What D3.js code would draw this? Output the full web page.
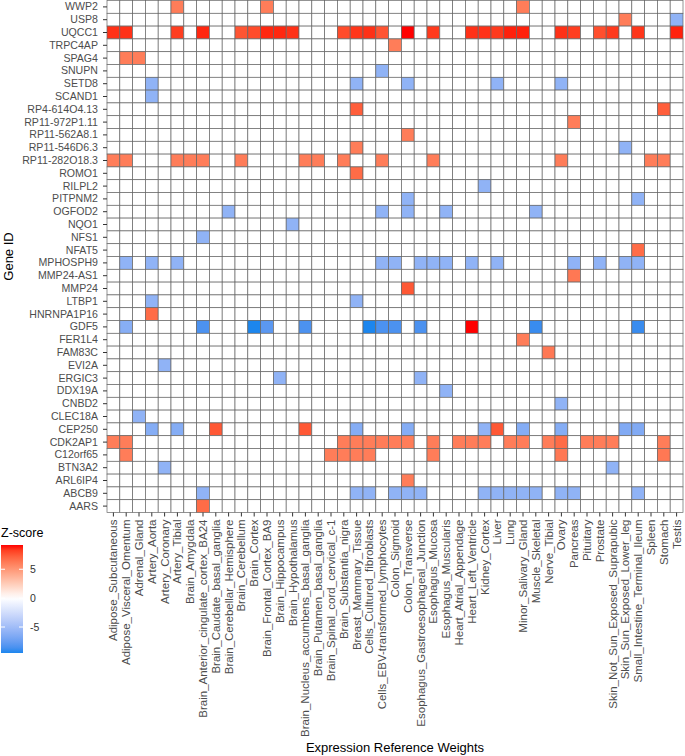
<html>
<head>
<script src="https://d3js.org/d3.v7.min.js"></script>
<style>
body { margin: 0; background: #fff; font-family: 'Liberation Sans', Arial, sans-serif; }
</style>
</head>
<body>
<div id="chart"></div>
<script>
  // genes top to bottom, tissues left to right
  var genes = ["WWP2", "USP8", "UQCC1", "TRPC4AP", "SPAG4", "SNUPN", "SETD8", "SCAND1",
    "RP4-614O4.13", "RP11-972P1.11", "RP11-562A8.1", "RP11-546D6.3", "RP11-282O18.3",
    "ROMO1", "RILPL2", "PITPNM2", "OGFOD2", "NQO1", "NFS1", "NFAT5", "MPHOSPH9",
    "MMP24-AS1", "MMP24", "LTBP1", "HNRNPA1P16", "GDF5", "FER1L4", "FAM83C", "EVI2A",
    "ERGIC3", "DDX19A", "CNBD2", "CLEC18A", "CEP250", "CDK2AP1", "C12orf65", "BTN3A2",
    "ARL6IP4", "ABCB9", "AARS"];

  var tissues = ["Adipose_Subcutaneous", "Adipose_Visceral_Omentum", "Adrenal_Gland",
    "Artery_Aorta", "Artery_Coronary", "Artery_Tibial", "Brain_Amygdala",
    "Brain_Anterior_cingulate_cortex_BA24", "Brain_Caudate_basal_ganglia",
    "Brain_Cerebellar_Hemisphere", "Brain_Cerebellum", "Brain_Cortex",
    "Brain_Frontal_Cortex_BA9", "Brain_Hippocampus", "Brain_Hypothalamus",
    "Brain_Nucleus_accumbens_basal_ganglia", "Brain_Putamen_basal_ganglia",
    "Brain_Spinal_cord_cervical_c-1", "Brain_Substantia_nigra", "Breast_Mammary_Tissue",
    "Cells_Cultured_fibroblasts", "Cells_EBV-transformed_lymphocytes", "Colon_Sigmoid",
    "Colon_Transverse", "Esophagus_Gastroesophageal_Junction", "Esophagus_Mucosa",
    "Esophagus_Muscularis", "Heart_Atrial_Appendage", "Heart_Left_Ventricle",
    "Kidney_Cortex", "Liver", "Lung", "Minor_Salivary_Gland", "Muscle_Skeletal",
    "Nerve_Tibial", "Ovary", "Pancreas", "Pituitary", "Prostate",
    "Skin_Not_Sun_Exposed_Suprapubic", "Skin_Sun_Exposed_Lower_leg",
    "Small_Intestine_Terminal_Ileum", "Spleen", "Stomach", "Testis"];

  // non-zero z-scores: [gene, tissue index, z]
  var zscores = [
    ["WWP2", 5, 6.1], ["WWP2", 12, 6.1], ["WWP2", 32, 6.1],
    ["USP8", 40, 6.1], ["USP8", 44, -5.8],
    ["UQCC1", 0, 8.6], ["UQCC1", 1, 8.6], ["UQCC1", 5, 8.3], ["UQCC1", 7, 8.8],
    ["UQCC1", 10, 7.6], ["UQCC1", 11, 7.9], ["UQCC1", 12, 8.8], ["UQCC1", 13, 8.8],
    ["UQCC1", 14, 8.6], ["UQCC1", 18, 7.9], ["UQCC1", 19, 8.5], ["UQCC1", 20, 8.6],
    ["UQCC1", 21, 7.6], ["UQCC1", 23, 9.2], ["UQCC1", 25, 8.4], ["UQCC1", 28, 8.6],
    ["UQCC1", 29, 8.6], ["UQCC1", 30, 8.4], ["UQCC1", 31, 8.9], ["UQCC1", 32, 8.9],
    ["UQCC1", 35, 8.6], ["UQCC1", 36, 8.3], ["UQCC1", 38, 7.8], ["UQCC1", 39, 8.4],
    ["UQCC1", 41, 8.5], ["UQCC1", 44, 8.9],
    ["TRPC4AP", 22, 6.1],
    ["SPAG4", 1, 6.1], ["SPAG4", 2, 6.1],
    ["SNUPN", 21, -5.8],
    ["SETD8", 3, -5.8], ["SETD8", 19, -5.8], ["SETD8", 23, -5.8], ["SETD8", 30, -5.8], ["SETD8", 35, -5.8],
    ["SCAND1", 3, -5.8],
    ["RP4-614O4.13", 19, 7.3], ["RP4-614O4.13", 43, 7.3],
    ["RP11-972P1.11", 36, 6.1],
    ["RP11-562A8.1", 23, 6.1],
    ["RP11-546D6.3", 19, 6.1], ["RP11-546D6.3", 40, -5.8],
    ["RP11-282O18.3", 0, 6.1], ["RP11-282O18.3", 1, 6.1], ["RP11-282O18.3", 5, 6.1],
    ["RP11-282O18.3", 6, 6.1], ["RP11-282O18.3", 7, 6.1], ["RP11-282O18.3", 10, 6.1],
    ["RP11-282O18.3", 15, 6.1], ["RP11-282O18.3", 16, 6.1], ["RP11-282O18.3", 18, 6.1],
    ["RP11-282O18.3", 21, 6.1], ["RP11-282O18.3", 25, 6.1], ["RP11-282O18.3", 35, 6.1],
    ["RP11-282O18.3", 42, 6.1], ["RP11-282O18.3", 43, 6.1],
    ["ROMO1", 19, 6.8],
    ["RILPL2", 29, -5.8],
    ["PITPNM2", 23, -5.8], ["PITPNM2", 41, -5.8],
    ["OGFOD2", 9, -5.8], ["OGFOD2", 21, -5.8], ["OGFOD2", 23, -5.8], ["OGFOD2", 26, -5.8], ["OGFOD2", 33, -5.8],
    ["NQO1", 14, -5.8],
    ["NFS1", 7, -5.8],
    ["NFAT5", 41, 6.8],
    ["MPHOSPH9", 1, -5.8], ["MPHOSPH9", 3, -5.8], ["MPHOSPH9", 5, -5.8], ["MPHOSPH9", 21, -5.8],
    ["MPHOSPH9", 22, -5.8], ["MPHOSPH9", 24, -5.8], ["MPHOSPH9", 25, -5.8], ["MPHOSPH9", 26, -5.8],
    ["MPHOSPH9", 28, -5.8], ["MPHOSPH9", 30, -5.8], ["MPHOSPH9", 36, -5.8], ["MPHOSPH9", 38, -5.8],
    ["MPHOSPH9", 40, -5.8], ["MPHOSPH9", 41, -5.8],
    ["MMP24-AS1", 36, 6.3],
    ["MMP24", 23, 7.5],
    ["LTBP1", 3, -5.8], ["LTBP1", 19, -5.8],
    ["HNRNPA1P16", 3, 6.8],
    ["GDF5", 1, -6.2], ["GDF5", 7, -8.5], ["GDF5", 11, -9.5], ["GDF5", 12, -8], ["GDF5", 15, -8.5],
    ["GDF5", 20, -9.5], ["GDF5", 21, -8.5], ["GDF5", 22, -8.5], ["GDF5", 24, -8.5],
    ["GDF5", 28, 9.2], ["GDF5", 33, -9], ["GDF5", 41, -9],
    ["FER1L4", 32, 6.1],
    ["FAM83C", 34, 6.3],
    ["EVI2A", 4, -5.8],
    ["ERGIC3", 13, -5.8], ["ERGIC3", 24, -5.8],
    ["DDX19A", 26, -5.8],
    ["CNBD2", 35, -5.8],
    ["CLEC18A", 2, -5.8],
    ["CEP250", 3, -6.3], ["CEP250", 5, -6.3], ["CEP250", 8, 7.5], ["CEP250", 15, 7.5],
    ["CEP250", 19, -6.3], ["CEP250", 23, -6.3], ["CEP250", 29, -5.8], ["CEP250", 30, 7.5],
    ["CEP250", 32, -6.3], ["CEP250", 35, -6.3], ["CEP250", 40, -6.5], ["CEP250", 41, -6.5],
    ["CDK2AP1", 0, 6.1], ["CDK2AP1", 1, 6.1], ["CDK2AP1", 18, 6.1], ["CDK2AP1", 19, 6.1],
    ["CDK2AP1", 20, 6.1], ["CDK2AP1", 21, 6.1], ["CDK2AP1", 22, 6.1], ["CDK2AP1", 23, 6.1],
    ["CDK2AP1", 25, 6.1], ["CDK2AP1", 27, 6.1], ["CDK2AP1", 28, 6.1], ["CDK2AP1", 29, 6.1],
    ["CDK2AP1", 31, 6.1], ["CDK2AP1", 32, 6.1], ["CDK2AP1", 34, 6.1], ["CDK2AP1", 35, 6.8],
    ["CDK2AP1", 37, 6.1], ["CDK2AP1", 38, 6.1], ["CDK2AP1", 39, 6.1], ["CDK2AP1", 43, 6.1],
    ["C12orf65", 1, 6.1], ["C12orf65", 17, 6.1], ["C12orf65", 18, 6.1], ["C12orf65", 19, 6.1],
    ["C12orf65", 20, 6.1], ["C12orf65", 25, 6.1], ["C12orf65", 35, 6.3], ["C12orf65", 43, 6.3],
    ["BTN3A2", 4, -5.8], ["BTN3A2", 39, -5.8],
    ["ARL6IP4", 23, 6.1],
    ["ABCB9", 7, -5.8], ["ABCB9", 19, -5.8], ["ABCB9", 20, -5.8], ["ABCB9", 22, -5.8],
    ["ABCB9", 23, -5.8], ["ABCB9", 24, -5.8], ["ABCB9", 29, -5.8], ["ABCB9", 30, -5.8],
    ["ABCB9", 31, -5.8], ["ABCB9", 32, -5.8], ["ABCB9", 33, -5.8], ["ABCB9", 35, -5.8],
    ["ABCB9", 36, -5.8], ["ABCB9", 41, -5.8],
    ["AARS", 7, 6.8]
  ];

  var zLimits = [-9.5, 9.2];
  var legendTicks = [5, 0, -5];

  var width = 685, height = 756;
  var panelLeft = 107, panelTop = 0.5, cell = 12.8;

  var lookup = {};
  zscores.forEach(function(d) { lookup[d[0] + "|" + tissues[d[1]]] = d[2]; });

  var cells = [];
  genes.forEach(function(g) {
    tissues.forEach(function(t) {
      var v = lookup[g + "|" + t];
      cells.push({ gene: g, tissue: t, z: v === undefined ? 0 : v });
    });
  });

  var x = d3.scaleBand().domain(tissues).range([panelLeft, panelLeft + cell * tissues.length]);
  var y = d3.scaleBand().domain(genes).range([panelTop, panelTop + cell * genes.length]);

  // diverging blue-white-red, interpolated in Lab like ggplot's gradient2
  var color = d3.scaleLinear()
    .domain([zLimits[0], 0, zLimits[1]])
    .range(["#1C86EE", "#ffffff", "#ff0000"])
    .interpolate(d3.interpolateLab)
    .clamp(true);

  var svg = d3.select("#chart").append("svg")
    .attr("width", width)
    .attr("height", height);

  svg.append("g").selectAll("rect")
    .data(cells).enter()
    .append("rect")
    .attr("x", function(d) { return x(d.tissue); })
    .attr("y", function(d) { return y(d.gene); })
    .attr("width", x.bandwidth())
    .attr("height", y.bandwidth())
    .attr("fill", function(d) { return color(d.z); })
    .attr("stroke", "#666")
    .attr("stroke-width", 0.7);

  // y axis
  var yAxis = svg.append("g")
    .attr("transform", "translate(" + panelLeft + ",0)")
    .call(d3.axisLeft(y).tickSize(4).tickPadding(5));
  yAxis.select(".domain").remove();
  yAxis.selectAll("line").attr("stroke", "#333");
  yAxis.selectAll("text")
    .attr("fill", "#4d4d4d")
    .style("font-family", "'Liberation Sans', Arial, sans-serif")
    .style("font-size", "10.6px");

  // x axis, labels rotated
  var xBottom = panelTop + cell * genes.length;
  var xAxis = svg.append("g")
    .attr("transform", "translate(0," + xBottom + ")")
    .call(d3.axisBottom(x).tickSize(4));
  xAxis.select(".domain").remove();
  xAxis.selectAll("line").attr("stroke", "#333");
  xAxis.selectAll("text")
    .attr("fill", "#4d4d4d")
    .style("font-family", "'Liberation Sans', Arial, sans-serif")
    .style("font-size", "11.5px")
    .attr("text-anchor", "end")
    .attr("dy", "0.35em")
    .attr("transform", "translate(0,7) rotate(-90)")
    .attr("x", 0)
    .attr("y", 0);

  // axis titles
  svg.append("text")
    .attr("transform", "translate(13," + (panelTop + cell * genes.length / 2) + ") rotate(-90)")
    .attr("text-anchor", "middle")
    .style("font-size", "13px")
    .text("Gene ID");

  svg.append("text")
    .attr("x", panelLeft + cell * tissues.length / 2)
    .attr("y", 752)
    .attr("text-anchor", "middle")
    .style("font-size", "13px")
    .text("Expression Reference Weights");

  // colour bar legend
  var legendScale = d3.scaleLinear().domain([zLimits[1], zLimits[0]]).range([545, 653]);
  var defs = svg.append("defs");
  var grad = defs.append("linearGradient")
    .attr("id", "zgrad")
    .attr("x1", 0).attr("y1", 0).attr("x2", 0).attr("y2", 1);
  d3.range(0, 1.0001, 0.05).forEach(function(t) {
    grad.append("stop")
      .attr("offset", t)
      .attr("stop-color", color(zLimits[1] + t * (zLimits[0] - zLimits[1])));
  });

  svg.append("text")
    .attr("x", 1)
    .attr("y", legendScale.range()[0] - 8)
    .style("font-size", "12.5px")
    .text("Z-score");

  svg.append("rect")
    .attr("x", 1)
    .attr("y", legendScale.range()[0])
    .attr("width", 22)
    .attr("height", legendScale.range()[1] - legendScale.range()[0])
    .attr("fill", "url(#zgrad)");

  var lt = svg.append("g").selectAll("g")
    .data(legendTicks).enter()
    .append("g");
  lt.append("line")
    .attr("x1", 1).attr("x2", 5)
    .attr("y1", function(d) { return legendScale(d); })
    .attr("y2", function(d) { return legendScale(d); })
    .attr("stroke", "#fff");
  lt.append("line")
    .attr("x1", 19).attr("x2", 23)
    .attr("y1", function(d) { return legendScale(d); })
    .attr("y2", function(d) { return legendScale(d); })
    .attr("stroke", "#fff");
  lt.append("text")
    .attr("x", 30)
    .attr("y", function(d) { return legendScale(d); })
    .attr("dy", "0.35em")
    .attr("fill", "#333")
    .style("font-size", "10.5px")
    .text(function(d) { return d; });
</script>
</body>
</html>
